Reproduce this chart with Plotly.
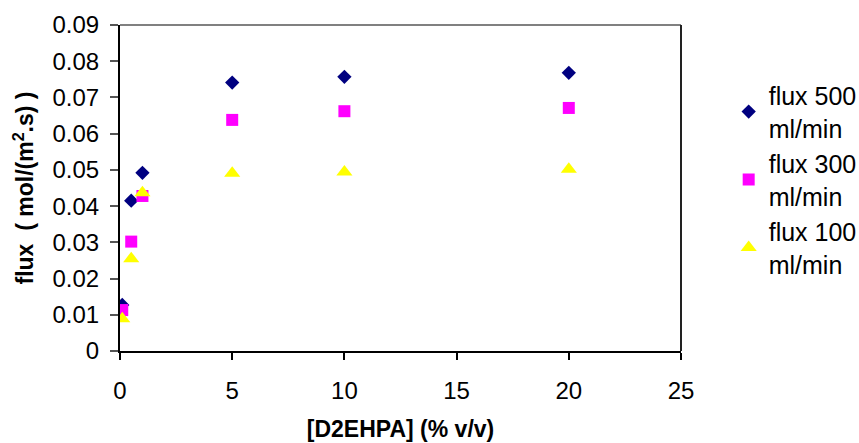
import plotly.graph_objects as go

# D2EHPA concentration (% v/v)
d2ehpa = [0.1, 0.5, 1, 5, 10, 20]

# flux (mol/(m2.s)) at each circulation rate
flux_500 = [0.0127, 0.0415, 0.0492, 0.0741, 0.0757, 0.0768]
flux_300 = [0.0113, 0.0302, 0.0428, 0.0638, 0.0662, 0.0671]
flux_100 = [0.0089, 0.0255, 0.0437, 0.0491, 0.0494, 0.0502]

series_names = ["flux 500<br>ml/min", "flux 300<br>ml/min", "flux 100<br>ml/min"]

x_ticks = [0, 5, 10, 15, 20, 25]
y_ticks = [0, 0.01, 0.02, 0.03, 0.04, 0.05, 0.06, 0.07, 0.08, 0.09]
y_tick_text = ["0", "0.01", "0.02", "0.03", "0.04", "0.05", "0.06", "0.07", "0.08", "0.09"]

FONT = "Liberation Sans, Arial, sans-serif"

fig = go.Figure()
fig.add_trace(go.Scatter(
    x=d2ehpa, y=flux_500, mode="markers", name=series_names[0],
    marker=dict(symbol="diamond", size=11, color="#000080"),
))
fig.add_trace(go.Scatter(
    x=d2ehpa, y=flux_300, mode="markers", name=series_names[1],
    marker=dict(symbol="square", size=12, color="#FF00FF"),
))
fig.add_trace(go.Scatter(
    x=d2ehpa, y=flux_100, mode="markers", name=series_names[2],
    marker=dict(symbol="triangle-up", size=14, color="#FFFF00"),
))

fig.update_layout(
    width=859, height=443,
    margin=dict(l=120, r=178, t=25, b=92, autoexpand=False),
    paper_bgcolor="white", plot_bgcolor="white",
    font=dict(family=FONT, size=24, color="black"),
    showlegend=True,
    legend=dict(
        x=1.085, xanchor="left", y=0.854, yanchor="top",
        font=dict(family=FONT, size=25, color="black"),
        bgcolor="rgba(0,0,0,0)", borderwidth=0,
        itemwidth=30, tracegroupgap=0,
    ),
    shapes=[
        # plot-area frame: grey top edge, dark right edge
        dict(type="line", xref="paper", yref="paper", x0=0, x1=1, y0=1, y1=1,
             line=dict(color="#808080", width=2)),
        dict(type="line", xref="paper", yref="paper", x0=1, x1=1, y0=0, y1=1,
             line=dict(color="#222222", width=2)),
    ],
)

fig.update_xaxes(
    range=[0, 25], tickmode="array", tickvals=x_ticks,
    showgrid=False, zeroline=False,
    showline=True, linecolor="black", linewidth=2,
    ticks="outside", ticklen=7, tickwidth=1.5, tickcolor="black",
    ticklabelstandoff=10,
    tickfont=dict(family=FONT, size=24, color="black"),
    title=dict(text="<b>[D2EHPA] (% v/v)</b>", standoff=18,
               font=dict(family=FONT, size=23, color="black")),
    automargin=False,
)
fig.update_yaxes(
    range=[0, 0.09], tickmode="array", tickvals=y_ticks, ticktext=y_tick_text,
    showgrid=False, zeroline=False,
    showline=True, linecolor="black", linewidth=2,
    ticks="outside", ticklen=8, tickwidth=1.5, tickcolor="#555555",
    ticklabelstandoff=6,
    tickfont=dict(family=FONT, size=24, color="black"),
    title=dict(text="<b>flux&nbsp; ( mol/(m<sup>2</sup>.s) )</b>", standoff=12,
               font=dict(family=FONT, size=23, color="black")),
    automargin=False,
)

fig.write_html("out.html")
